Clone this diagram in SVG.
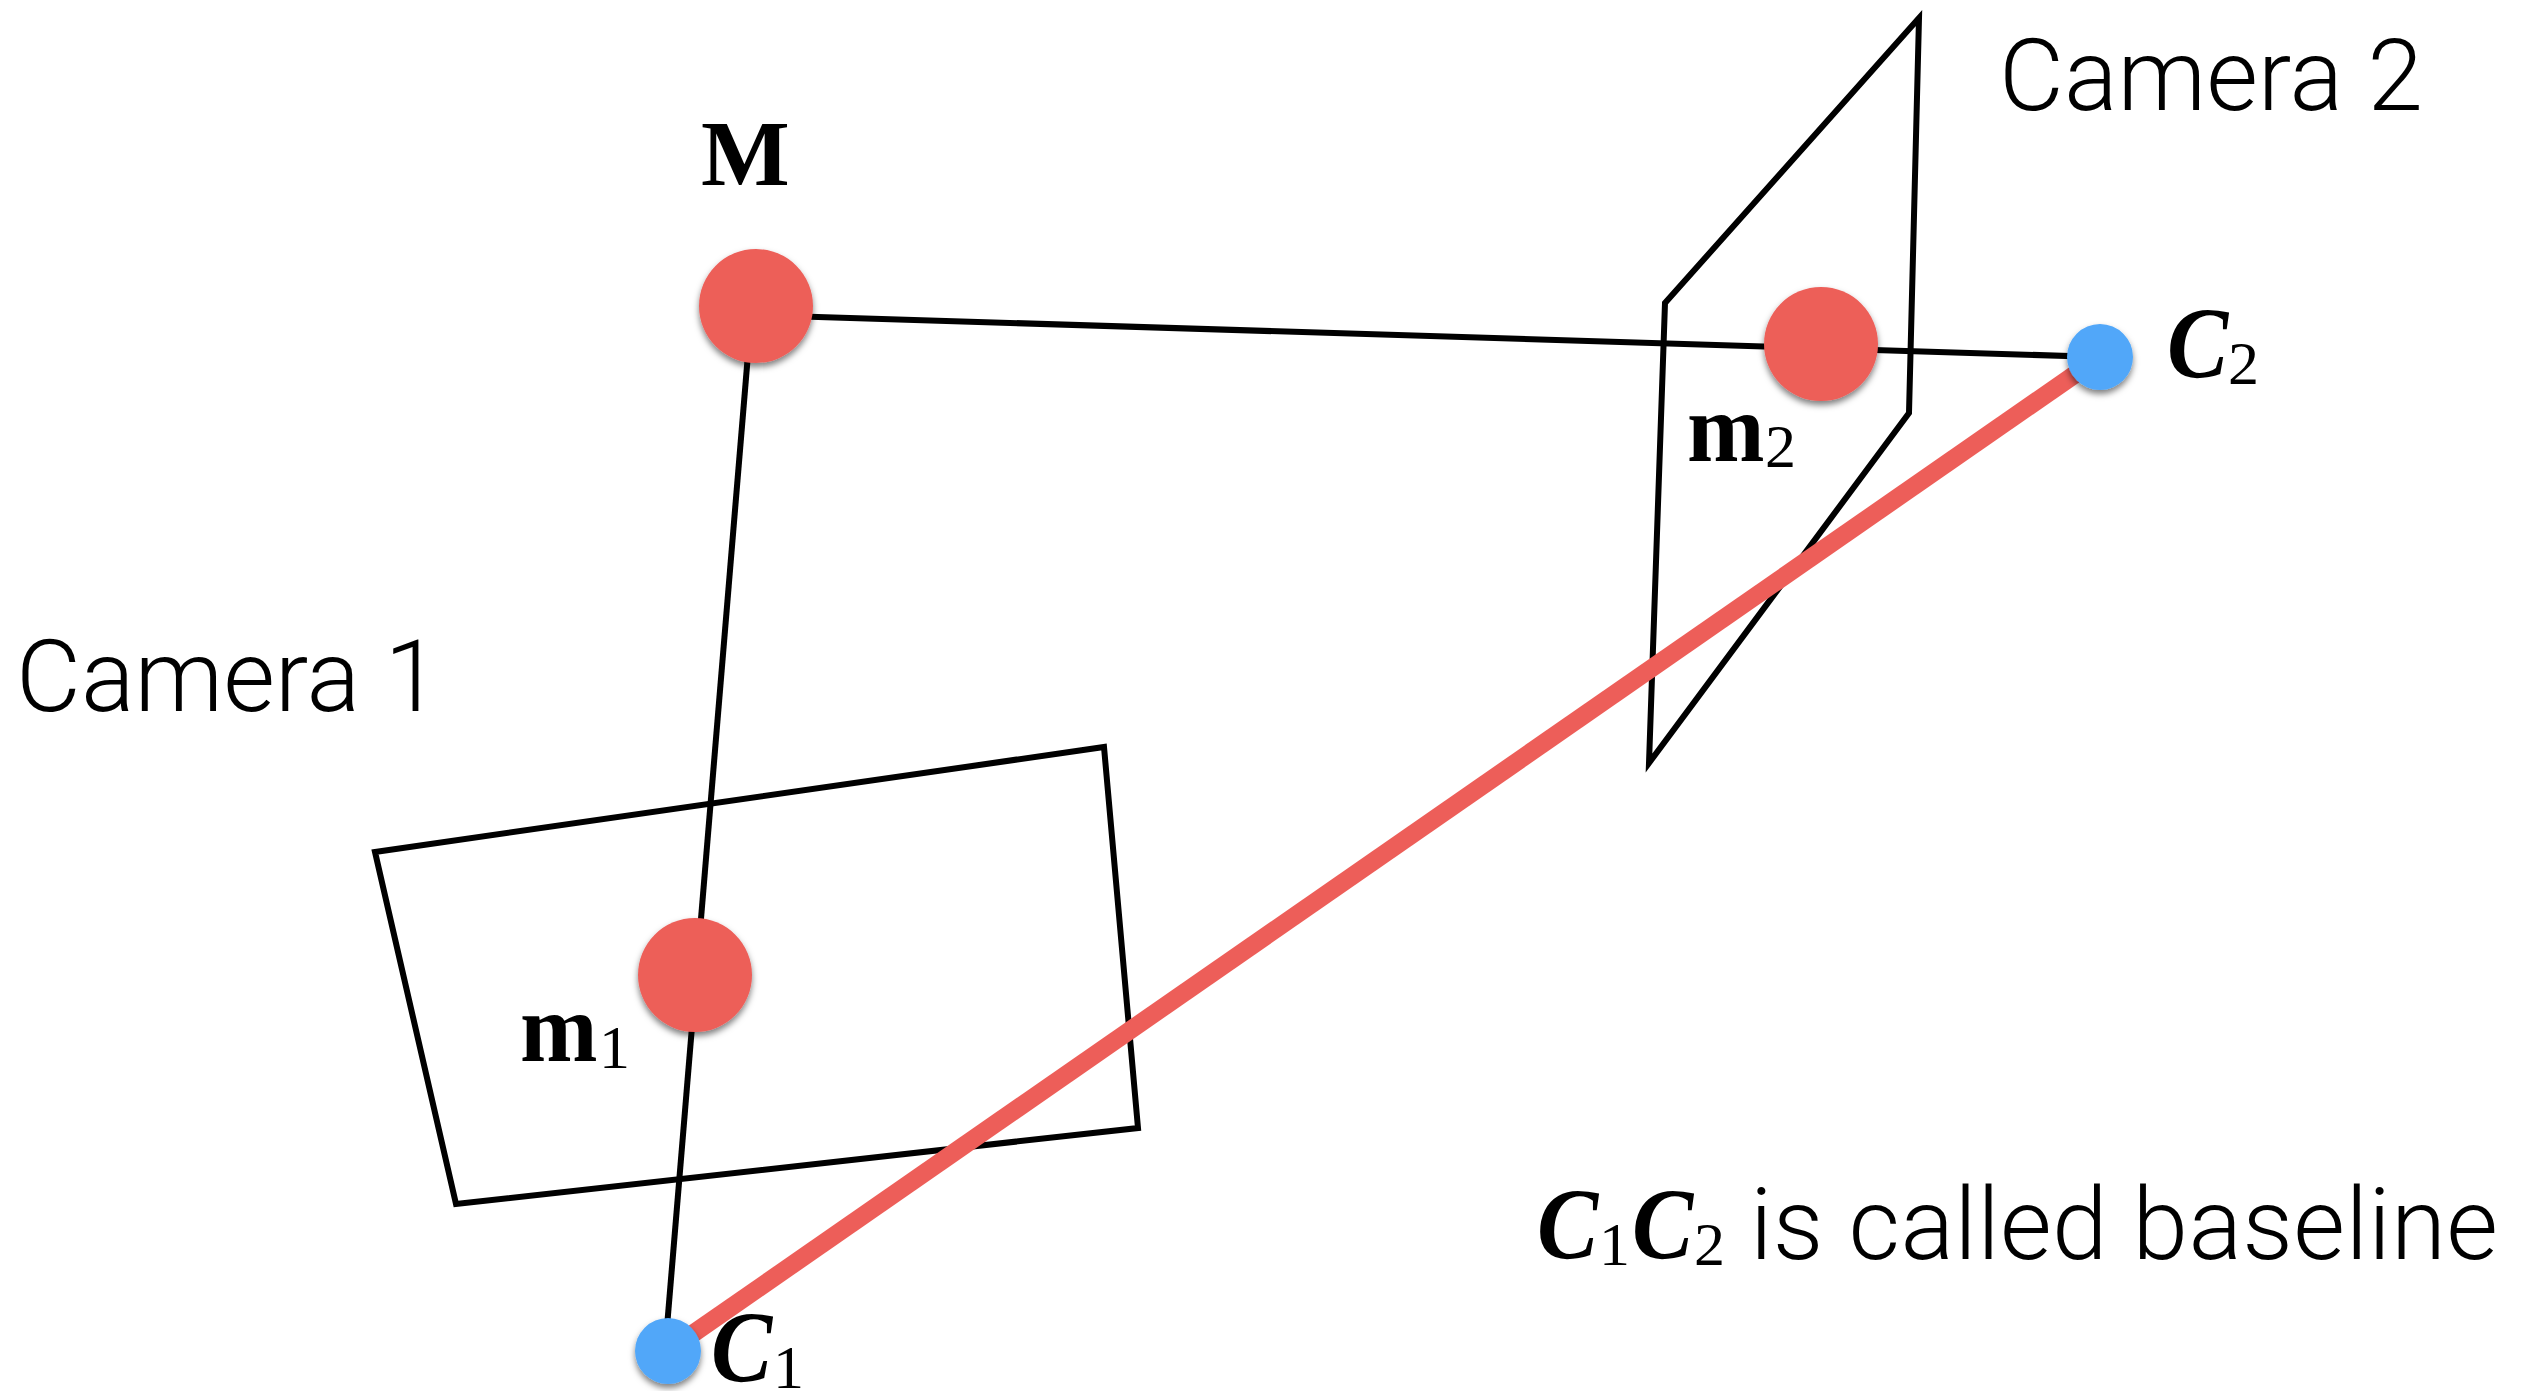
<svg xmlns="http://www.w3.org/2000/svg" width="2534" height="1391" viewBox="0 0 2534 1391">
<style>
.plane{fill:none;stroke:#000;stroke-width:6;stroke-linejoin:miter;stroke-miterlimit:20}
.ray{fill:none;stroke:#000;stroke-width:6}
.base{fill:none;stroke:#ED5E59;stroke-width:18}
.pt{fill:#ED5E59;filter:url(#sh)}
.cam{fill:#51A7F9;filter:url(#sh)}
.sans{font-family:"Roboto","Liberation Sans",sans-serif;font-weight:300;font-size:100px;fill:#000}
.mb{font-family:"Liberation Serif",serif;font-weight:700;font-size:94px;fill:#000}
.mm{font-family:"Liberation Serif",serif;font-weight:700;font-size:98px;fill:#000}
.cb{font-family:"Liberation Serif",serif;font-weight:700;font-style:italic;font-size:102px;fill:#000}
.sub{font-family:"Liberation Serif",serif;font-weight:400;font-size:62px;fill:#000}
</style>
<defs>
<filter id="sh" x="-30%" y="-30%" width="160%" height="170%">
<feDropShadow dx="0" dy="4" stdDeviation="3" flood-color="#000" flood-opacity="0.5"/>
</filter>
</defs>
<rect width="2534" height="1391" fill="#fff"/>
<g id="connectors">
<polygon id="plane-1" class="plane" points="375,852 1104,747 1138,1128 456,1204"/>
<polygon id="plane-2" class="plane" points="1919,18 1665,303 1649,763 1909,413"/>
<line class="ray" x1="756" y1="315" x2="2100" y2="357"/>
<line class="ray" x1="752" y1="306" x2="665" y2="1351"/>
<line class="base" x1="668" y1="1351" x2="2100" y2="357"/>
</g>
<g id="node-M"><circle class="pt" cx="756" cy="306" r="57"/><text class="mb" x="701" y="185">M</text></g>
<g id="node-m1"><circle class="pt" cx="695" cy="975" r="57"/><text class="mm" transform="translate(520,1061) scale(.95,1)">m</text><text class="sub" x="599" y="1068">1</text></g>
<g id="node-m2"><circle class="pt" cx="1821" cy="344" r="57"/><text class="mm" transform="translate(1687,461) scale(.95,1)">m</text><text class="sub" x="1765" y="467">2</text></g>
<g id="node-C1"><circle class="cam" cx="668" cy="1351" r="33"/><text class="cb" transform="translate(711,1382) scale(.9,1)">C</text><text class="sub" x="773" y="1388">1</text></g>
<g id="node-C2"><circle class="cam" cx="2100" cy="357" r="33"/><text class="cb" transform="translate(2167,378) scale(.9,1)">C</text><text class="sub" x="2228" y="384">2</text></g>
<g id="label-camera-1"><text class="sans" x="16" y="711" textLength="424" lengthAdjust="spacing">Camera 1</text></g>
<g id="label-camera-2"><text class="sans" x="1999" y="110" textLength="424" lengthAdjust="spacing">Camera 2</text></g>
<g id="label-baseline"><text class="cb" transform="translate(1537,1259) scale(.9,1)">C</text><text class="sub" x="1599" y="1265">1</text><text class="cb" transform="translate(1632,1259) scale(.9,1)">C</text><text class="sub" x="1694" y="1265">2</text><text class="sans" x="1750" y="1259" textLength="748" lengthAdjust="spacing">is called baseline</text></g>
</svg>
